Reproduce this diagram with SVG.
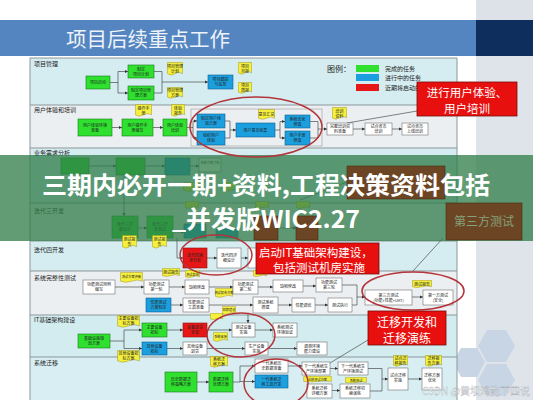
<svg xmlns="http://www.w3.org/2000/svg" xmlns:xlink="http://www.w3.org/1999/xlink" width="533" height="400" viewBox="0 0 533 400">
<style>
.t{font-family:"Noto Sans CJK SC","Liberation Sans",sans-serif;}
.bx{font-family:"Noto Sans CJK SC",sans-serif;font-size:4px;fill:#222;text-anchor:middle;}
.sm{font-size:3.2px;}
.lane{font-family:"Noto Sans CJK SC",sans-serif;font-size:6px;fill:#222;}
.g{fill:#2fe02f;stroke:#1b7a1b;stroke-width:0.6;}
.b{fill:#1c9fde;stroke:#10608f;stroke-width:0.6;}
.r{fill:#e81717;stroke:#8f1010;stroke-width:0.6;}
.w{fill:#ffffff;stroke:#6f6f6f;stroke-width:0.6;}
.br{fill:#6c4524;stroke:#4a2c14;stroke-width:0.6;}
.cn path,.cn line{fill:none;stroke:#333;stroke-width:0.6;}
.ar{marker-end:url(#arr);}
.ell{fill:none;stroke:#b3343a;stroke-width:1.5;}
.co{fill:#e80f0f;stroke:#7a0a0a;stroke-width:0.8;}
.cot{font-family:"Noto Sans CJK SC",sans-serif;fill:#fff;text-anchor:middle;}
</style>
<defs>
<marker id="arr" viewBox="0 0 6 6" refX="6" refY="3" markerWidth="3.5" markerHeight="3.5" orient="auto" markerUnits="userSpaceOnUse"><path d="M0,0 L6,3 L0,6 Z" fill="#333"/></marker>
<symbol id="doc" viewBox="0 0 20 12" preserveAspectRatio="none"><path d="M0.5,0.5 H19.5 V10 Q15,7.5 10,10 T0.5,10 Z" fill="#f5f03c" stroke="#9c9020" stroke-width="0.5" vector-effect="non-scaling-stroke"/></symbol>
</defs>
<rect width="533" height="400" fill="#ffffff"/>
<!-- header -->
<rect x="476" y="0" width="57" height="20" fill="#dde2e8"/>
<rect x="0" y="20" width="476" height="36" fill="#5485c0"/>
<rect x="476" y="20" width="57" height="36" fill="#0e2f5e"/>
<rect x="476" y="56" width="57" height="344" fill="#dfe4ea"/>
<text class="t" x="66" y="47" font-size="20.5" fill="#eef3fa">项目后续重点工作</text>
<g id="hexes" fill="#c8d5e4">
<polygon points="487,330 506,330 515,346 506,362 487,362 478,346"/>
<polygon points="461,348 477,348 485,362 477,377 461,377 453,362"/>
<polygon points="487,364 506,364 515,380 506,396 487,396 478,380"/>
</g>
<!-- lanes -->
<g id="lanes">
<rect x="30" y="58" width="427" height="47" fill="#d5edf1"/>
<rect x="30" y="105" width="427" height="43" fill="#eceff1"/>
<rect x="30" y="148" width="427" height="55" fill="#d5edf1"/>
<rect x="30" y="203" width="427" height="38" fill="#eceff1"/>
<rect x="30" y="241" width="427" height="30" fill="#d5edf1"/>
<rect x="30" y="271" width="427" height="44" fill="#eceff1"/>
<rect x="30" y="315" width="427" height="42" fill="#d3ecf0"/>
<rect x="30" y="357" width="427" height="43" fill="#d8eef2"/>
<g stroke="#8c979c" stroke-width="1">
<line x1="30" y1="58" x2="457" y2="58"/>
<line x1="30" y1="105" x2="457" y2="105"/>
<line x1="30" y1="148" x2="457" y2="148"/>
<line x1="30" y1="203" x2="457" y2="203"/>
<line x1="30" y1="241" x2="457" y2="241"/>
<line x1="30" y1="271" x2="457" y2="271"/>
<line x1="30" y1="315" x2="457" y2="315"/>
<line x1="30" y1="357" x2="457" y2="357"/>
<line x1="30" y1="58" x2="30" y2="400"/>
<line x1="457" y1="58" x2="457" y2="400"/>
</g>
<text class="lane" x="34" y="66">项目管理</text>
<text class="lane" x="34" y="112">用户体验和培训</text>
<text class="lane" x="34" y="155">业务需求分析</text>
<text class="lane" x="34" y="213">迭代三开发</text>
<text class="lane" x="34" y="252">迭代四开发</text>
<text class="lane" x="34" y="280">系统完整性测试</text>
<text class="lane" x="34" y="322">IT基础架构建设</text>
<text class="lane" x="34" y="365">系统迁移</text>
</g>
<!-- legend -->
<g id="legend">
<text class="t" x="327" y="72" font-size="8" fill="#222">图例：</text>
<rect x="356" y="65" width="23" height="7" fill="#2fe02f"/>
<rect x="356" y="74" width="23" height="7" fill="#1c9fde"/>
<rect x="356" y="84" width="23" height="7" fill="#e81717"/>
<text class="t" x="385" y="71" font-size="6" fill="#222">完成的任务</text>
<text class="t" x="385" y="80" font-size="6" fill="#222">进行中的任务</text>
<text class="t" x="385" y="89.5" font-size="6" fill="#222">近期将启动的任务</text>
</g>
<!-- connectors -->
<g id="connectors" class="cn">
<path d="M110,82.5 H118 M118,71.5 V93 M154,71.5 H162 V93 M154,93 H162"/>
<path class="ar" d="M118,71.5 H128"/><path class="ar" d="M118,93 H128"/><path class="ar" d="M162,82 H208"/>
<path class="ar" d="M112,127.5 H122"/><path class="ar" d="M153,127.5 H163"/>
<path d="M187,127.5 H193 M193,121 V138 M225,121 H230 V138 M225,138 H230 M275,130 H280 M280,121.5 V138 M310,121.5 H318 V138 M310,138 H318"/>
<path class="ar" d="M193,121 H197"/><path class="ar" d="M193,138 H197"/><path class="ar" d="M230,130 H236"/>
<path class="ar" d="M280,121.5 H285"/><path class="ar" d="M280,138 H285"/><path class="ar" d="M318,129 H327"/>
<path class="ar" d="M353,129 H365"/><path class="ar" d="M392,129 H402"/>
<rect x="191" y="109" width="131" height="37" fill="none" stroke="#9a9a9a" stroke-width="0.6"/>
<path class="ar" d="M89,166 H116"/><path class="ar" d="M145,166 H165"/><path class="ar" d="M190,166 H199"/>
<path class="ar" d="M124,175 V216"/>
<path class="ar" d="M138,228 H147"/><path class="ar" d="M173,232 H184"/><path class="ar" d="M278,228 H296"/>
<path class="ar" d="M177,238 V258 H183"/><path class="ar" d="M207,258 H217"/><path class="ar" d="M241,258 H248"/>
<path class="ar" d="M115,287 H144"/><path class="ar" d="M169,287 H185"/><path class="ar" d="M209,287 H233"/>
<path class="ar" d="M258,287 H273"/><path class="ar" d="M303,286 H316"/>
<path class="ar" d="M171,305 H183"/><path class="ar" d="M209,305 H253"/><path class="ar" d="M278,305 H292"/><path class="ar" d="M315,305 H328"/>
<path d="M342,285 H357 V305 H352"/>
<path class="ar" d="M357,297 H365"/><path class="ar" d="M412,297 H423"/>
<path class="ar" d="M248,313 V323"/>
<path d="M110,341 H124 M124,330 V348.5"/>
<path class="ar" d="M124,330 H142"/><path class="ar" d="M124,348.5 H142"/>
<path class="ar" d="M167,330 H183"/><path class="ar" d="M207,330 H232"/>
<path class="ar" d="M167,348.5 H183"/><path class="ar" d="M207,348.5 H245"/>
<path class="ar" d="M255,330 H273"/><path class="ar" d="M268,348.5 H297"/>
<path class="ar" d="M197,382 H209"/>
<path d="M233,382 H240 M240,366 V382"/>
<path class="ar" d="M240,366 H255"/><path class="ar" d="M240,381.5 H255"/>
<path class="ar" d="M288,366 H302"/><path class="ar" d="M330,368.5 H338"/>
<path d="M368,368.5 H382 V391 H370"/>
<path class="ar" d="M382,379 H388"/><path class="ar" d="M332,390.5 H340"/><path class="ar" d="M408,379 H422"/>
<line x1="417" y1="111" x2="347" y2="123"/>
<line x1="443" y1="238" x2="413" y2="271"/>
<line x1="368" y1="340" x2="330" y2="363"/>
<line x1="347" y1="182" x2="300" y2="200"/>
</g>
<!-- nodes: 项目管理 -->
<g id="n_pm1"><rect class="g" x="86" y="76" width="24" height="13"/><text class="bx" x="98" y="84">项目启动</text></g>
<g id="n_pm2"><rect class="g" x="128" y="65" width="26" height="13"/><text class="bx" x="141" y="70.5">制定</text><text class="bx" x="141" y="75.5">项目计划</text></g>
<g id="n_pm3"><rect class="g" x="128" y="86" width="26" height="14"/><text class="bx" x="141" y="92">制定项目管</text><text class="bx" x="141" y="97">理方案</text></g>
<g id="n_pm4"><use href="#doc" x="167" y="62" width="16" height="14"/><text class="bx" x="175" y="68">项目管理</text><text class="bx" x="175" y="73">计划</text></g>
<g id="n_pm5"><use href="#doc" x="167" y="87" width="16" height="12"/><text class="bx" x="175" y="92">项目管理</text><text class="bx" x="175" y="97">方案</text></g>
<g id="n_pm6"><rect class="b" x="208" y="75" width="25" height="14"/><text class="bx" x="220.5" y="81">项目跟踪</text><text class="bx" x="220.5" y="86">与监控</text></g>
<g id="n_pm7"><use href="#doc" x="238" y="62" width="14" height="13"/><text class="bx" x="245" y="67.5">项目</text><text class="bx" x="245" y="72.5">月报</text></g>
<g id="n_pm8"><use href="#doc" x="238" y="82" width="14" height="12"/><text class="bx" x="245" y="87">项目</text><text class="bx" x="245" y="92">周报</text></g>
<!-- 用户体验和培训 -->
<g id="n_ux1"><use href="#doc" x="135" y="104" width="17" height="13"/><text class="bx" x="143.5" y="109.5">操作手</text><text class="bx" x="143.5" y="114.5">册</text></g>
<g id="n_ux2"><use href="#doc" x="171" y="104" width="14" height="13"/><text class="bx" x="178" y="109.5">体验</text><text class="bx" x="178" y="114.5">报告</text></g>
<g id="n_ux3"><rect class="g" x="78" y="119" width="34" height="17"/><text class="bx" x="95" y="126.5">用户体验环境</text><text class="bx" x="95" y="131.5">准备</text></g>
<g id="n_ux4"><rect class="g" x="122" y="119" width="31" height="17"/><text class="bx" x="137.5" y="126.5">用户操作手</text><text class="bx" x="137.5" y="131.5">册编写</text></g>
<g id="n_ux5"><rect class="g" x="163" y="119" width="24" height="17"/><text class="bx" x="175" y="126.5">用户体验</text><text class="bx" x="175" y="131.5">培训</text></g>
<g id="n_ux6"><rect class="b" x="197" y="114" width="28" height="14"/><text class="bx" x="211" y="120">制定用户体</text><text class="bx" x="211" y="125">验方案</text></g>
<g id="n_ux7"><rect class="b" x="197" y="131" width="28" height="14"/><text class="bx" x="211" y="137">组织用户</text><text class="bx" x="211" y="142">体验</text></g>
<g id="n_ux8"><rect class="b" x="236" y="123" width="39" height="14"/><text class="bx" x="255.5" y="131.5">用户意见收集</text></g>
<g id="n_ux9"><use href="#doc" x="258" y="109" width="17" height="11"/><text class="bx" x="266.5" y="115.5">意见汇总</text></g>
<g id="n_ux10"><rect class="b" x="285" y="115" width="25" height="13"/><text class="bx" x="297.5" y="120.5">系统优化</text><text class="bx" x="297.5" y="125.5">修改</text></g>
<g id="n_ux11"><rect class="b" x="285" y="131" width="25" height="14"/><text class="bx" x="297.5" y="137">用户手册</text><text class="bx" x="297.5" y="142">修改</text></g>
<g id="n_ux12"><use href="#doc" x="332" y="107" width="15" height="13"/><text class="bx" x="339.5" y="112.5">培训</text><text class="bx" x="339.5" y="117.5">资料</text></g>
<g id="n_ux13"><rect class="w" x="327" y="123" width="26" height="12"/><text class="bx" x="340" y="128">完整培训资</text><text class="bx" x="340" y="133">料准备</text></g>
<g id="n_ux14"><rect class="w" x="365" y="123" width="27" height="12"/><text class="bx" x="378.5" y="128">试点省市</text><text class="bx" x="378.5" y="133">培训</text></g>
<g id="n_ux15"><rect class="w" x="402" y="123" width="26" height="12"/><text class="bx" x="415" y="128">试点省市</text><text class="bx" x="415" y="133">上线培训</text></g>
<!-- 业务需求分析 -->
<g id="n_ba1"><rect class="g" x="61" y="158" width="28" height="16"/></g>
<g id="n_ba2"><rect class="g" x="116" y="158" width="29" height="17"/></g>
<g id="n_ba3"><rect class="b" x="165" y="158" width="25" height="17"/></g>
<g id="n_ba4"><rect class="w" x="199" y="158" width="22" height="14"/><text class="bx sm" x="210" y="164">系统方案文档</text></g>
<g id="n_ba5"><use href="#doc" x="183" y="182" width="20" height="10"/></g>
<g id="n_ba6"><use href="#doc" x="221" y="182" width="16" height="10"/></g>
<!-- 迭代三开发 -->
<g id="n_i3d1"><use href="#doc" x="185" y="201" width="14" height="8"/></g>
<g id="n_i3d2"><use href="#doc" x="255" y="201" width="14" height="8"/></g>
<g id="n_i3d3"><use href="#doc" x="296" y="201" width="14" height="8"/></g>
<g id="n_i3a"><rect class="g" x="112" y="216" width="26" height="22"/><text class="bx" x="125" y="226">迭代三详</text><text class="bx" x="125" y="231">细设计</text></g>
<g id="n_i3b"><rect class="g" x="147" y="216" width="26" height="22"/><text class="bx" x="160" y="226">迭代三开</text><text class="bx" x="160" y="231">发测试</text></g>
<g id="n_i3c"><rect class="b" x="184" y="224" width="22" height="14"/></g>
<g id="n_i3e"><rect class="b" x="216" y="229" width="22" height="9"/></g>
<!-- banner overlay -->
<rect id="banner" x="0" y="155" width="533" height="86" fill="#2f7d4a" opacity="0.76"/>
<g id="n_i3f"><rect class="br" x="254" y="216" width="24" height="24"/></g>
<g id="n_i3g"><rect class="br" x="296" y="216" width="22" height="24"/></g>
<g id="callout_big"><rect class="br" x="347" y="166" width="98" height="33"/></g>
<g id="callout_3rd"><rect class="br" x="446" y="203" width="76" height="37"/><text class="t" x="484" y="226" font-size="12" fill="#86a27a" text-anchor="middle">第三方测试</text></g>
<g id="banner_text">
<text class="t" x="42" y="194" font-size="24" font-weight="700" fill="#ffffff" textLength="448" lengthAdjust="spacingAndGlyphs">三期内必开一期+资料,工程决策资料包括</text>
<text class="t" x="172" y="228" font-size="24" font-weight="700" fill="#ffffff" textLength="188" lengthAdjust="spacingAndGlyphs">_并发版WIC2.27</text>
</g>
<!-- 迭代四开发 -->
<g id="n_i4d1"><use href="#doc" x="122" y="235" width="15" height="14"/><text class="bx" x="129.5" y="241">测试报</text><text class="bx" x="129.5" y="246">告</text></g>
<g id="n_i4d2"><use href="#doc" x="152" y="235" width="15" height="14"/><text class="bx" x="159.5" y="241">测试报</text><text class="bx" x="159.5" y="246">告</text></g>
<g id="n_i4a"><rect class="r" x="183" y="248" width="24" height="20"/><text class="bx" x="195" y="256.5">迭代四需</text><text class="bx" x="195" y="261.5">求分析</text></g>
<g id="n_i4b"><rect class="w" x="217" y="248" width="24" height="20"/><text class="bx" x="229" y="256.5">迭代四详</text><text class="bx" x="229" y="261.5">细设计</text></g>
<g id="n_i4c"><rect class="w" x="248" y="248" width="20" height="20"/></g>
<!-- 系统完整性测试 -->
<g id="n_st1"><use href="#doc" x="120" y="272" width="23" height="11"/><text class="bx sm" x="131.5" y="277.5">测试方案评审</text></g>
<g id="n_st2"><use href="#doc" x="162" y="268" width="18" height="9"/><text class="bx" x="171" y="274">测试报告</text></g>
<g id="n_st3"><use href="#doc" x="185" y="270" width="15" height="8"/><text class="bx sm" x="192.5" y="275.5">测试报告</text></g>
<g id="n_st4"><rect class="w" x="83" y="280" width="32" height="14"/><text class="bx" x="99" y="286">功能测试用例</text><text class="bx" x="99" y="291">编写</text></g>
<g id="n_st5"><rect class="w" x="144" y="280" width="25" height="14"/><text class="bx" x="156.5" y="286">功能测试</text><text class="bx" x="156.5" y="291">第一轮</text></g>
<g id="n_st6"><rect class="w" x="185" y="280" width="24" height="14"/><text class="bx" x="197" y="288.5">缺陷修改</text></g>
<g id="n_st7"><use href="#doc" x="215" y="288" width="18" height="10"/><text class="bx sm" x="224" y="293.5">测试报告方案</text></g>
<g id="n_st8"><rect class="w" x="233" y="280" width="25" height="14"/><text class="bx" x="245.5" y="286">功能测试</text><text class="bx" x="245.5" y="291">第二轮</text></g>
<g id="n_st9"><use href="#doc" x="253" y="270" width="14" height="7"/></g>
<g id="n_st10"><rect class="w" x="273" y="280" width="30" height="12"/><text class="bx" x="288" y="287.5">缺陷修改</text></g>
<g id="n_st11"><rect class="w" x="316" y="278" width="26" height="14"/><text class="bx" x="329" y="284">功能测试</text><text class="bx" x="329" y="289">第三轮</text></g>
<g id="n_st12"><rect class="b" x="146" y="298" width="25" height="14"/><text class="bx" x="158.5" y="304">性能测试</text><text class="bx" x="158.5" y="309">方案制定</text></g>
<g id="n_st13"><rect class="w" x="183" y="298" width="26" height="14"/><text class="bx" x="196" y="304">性能测试</text><text class="bx" x="196" y="309">工具准备</text></g>
<g id="n_st14"><use href="#doc" x="210" y="313" width="13" height="7"/></g>
<g id="n_st15"><rect class="w" x="253" y="297" width="25" height="16"/><text class="bx" x="265.5" y="304">测试系统</text><text class="bx" x="265.5" y="309">搭建</text></g>
<g id="n_st16"><rect class="w" x="292" y="298" width="23" height="14"/><text class="bx" x="303.5" y="306.5">性能调优</text></g>
<g id="n_st17"><rect class="w" x="328" y="298" width="24" height="14"/><text class="bx" x="340" y="306.5">测试执行</text></g>
<g id="n_st18"><use href="#doc" x="412" y="280" width="20" height="8"/><text class="bx" x="422" y="285.5">测试报告</text></g>
<g id="n_st19"><rect class="w" x="365" y="290" width="47" height="15"/><text class="bx" x="388.5" y="296.5">第三方测试</text><text class="bx" x="388.5" y="301.5">(功能+性能+UAT)</text></g>
<g id="n_st20"><rect class="w" x="423" y="290" width="30" height="15"/><text class="bx" x="438" y="296.5">第一方测试</text><text class="bx" x="438" y="301.5">(安全)</text></g>
<!-- IT基础架构建设 -->
<g id="n_it1"><use href="#doc" x="117" y="315" width="23" height="13"/><text class="bx" x="128.5" y="320.3">主要设备招</text><text class="bx" x="128.5" y="325.3">标方案</text></g>
<g id="n_it2"><use href="#doc" x="117" y="350" width="23" height="13"/><text class="bx" x="128.5" y="355.3">其他设备招</text><text class="bx" x="128.5" y="360.3">标方案</text></g>
<g id="n_it3"><rect class="g" x="78" y="334" width="32" height="14"/><text class="bx" x="94" y="340">基础设施规</text><text class="bx" x="94" y="345">划方案</text></g>
<g id="n_it4"><rect class="g" x="142" y="323" width="25" height="14"/><text class="bx" x="154.5" y="329">主要设备</text><text class="bx" x="154.5" y="334">招标</text></g>
<g id="n_it5"><rect class="b" x="142" y="342" width="25" height="13"/><text class="bx" x="154.5" y="347.5">其他设备</text><text class="bx" x="154.5" y="352.5">招标</text></g>
<g id="n_it6"><rect class="r" x="183" y="323" width="24" height="14"/><text class="bx" x="195" y="329">设备到货</text><text class="bx" x="195" y="334">安装</text></g>
<g id="n_it7"><rect class="w" x="183" y="342" width="24" height="13"/><text class="bx" x="195" y="347.5">其他设备</text><text class="bx" x="195" y="352.5">到货</text></g>
<g id="n_it8"><use href="#doc" x="222" y="306" width="14" height="9"/><text class="bx sm" x="229" y="311.3">机房建设</text></g>
<g id="n_it9"><use href="#doc" x="213" y="332" width="15" height="10"/><text class="bx sm" x="220.5" y="337.8">系统安装</text></g>
<g id="n_it10"><rect class="w" x="232" y="323" width="23" height="14"/><text class="bx" x="243.5" y="329">测试设备</text><text class="bx" x="243.5" y="334">实施</text></g>
<g id="n_it11"><rect class="w" x="245" y="342" width="23" height="13"/><text class="bx" x="256.5" y="347.5">生产设备</text><text class="bx" x="256.5" y="352.5">实施</text></g>
<g id="n_it12"><rect class="w" x="273" y="323" width="24" height="14"/><text class="bx" x="285" y="329">系统测试</text><text class="bx" x="285" y="334">环境验证</text></g>
<g id="n_it13"><rect class="w" x="297" y="342" width="30" height="13"/><text class="bx" x="312" y="347.5">调测环境</text><text class="bx" x="312" y="352.5">能力建设</text></g>
<!-- 系统迁移 -->
<g id="n_mg1"><use href="#doc" x="210" y="356" width="18" height="12"/><text class="bx" x="219" y="360.8">系统迁</text><text class="bx" x="219" y="365.8">移方案</text></g>
<g id="n_mg2"><rect class="g" x="165" y="372" width="32" height="20"/><text class="bx" x="181" y="380.5">历史数据迁</text><text class="bx" x="181" y="385.5">移策略方案</text></g>
<g id="n_mg3"><rect class="g" x="209" y="372" width="24" height="20"/><text class="bx" x="221" y="380.5">数据迁移</text><text class="bx" x="221" y="385.5">处理方案</text></g>
<g id="n_mg4"><rect class="w" x="255" y="359" width="33" height="14"/><text class="bx" x="271.5" y="365">一代系统历</text><text class="bx" x="271.5" y="370">史数据准备</text></g>
<g id="n_mg5"><rect class="b" x="255" y="375" width="33" height="13"/><text class="bx" x="271.5" y="380.5">一代系统迁</text><text class="bx" x="271.5" y="385.5">移工具开发</text></g>
<g id="n_mg6"><rect class="w" x="302" y="362" width="28" height="13"/><text class="bx" x="316" y="367.5">下一代系统生</text><text class="bx" x="316" y="372.5">产环境部署</text></g>
<g id="n_mg7"><rect class="w" x="338" y="362" width="30" height="13"/><text class="bx" x="353" y="367.5">下一代系统生</text><text class="bx" x="353" y="372.5">产环境测试</text></g>
<g id="n_mg8"><use href="#doc" x="303" y="376" width="29" height="6.5"/><text class="bx sm" x="317.5" y="380.5">迁移测试方案</text></g>
<g id="n_mg9"><use href="#doc" x="345" y="377" width="22" height="6.5"/><text class="bx sm" x="356" y="381.5">系统测试</text></g>
<g id="n_mg10"><rect class="w" x="307" y="384" width="25" height="14"/><text class="bx" x="319.5" y="390">系统迁移</text><text class="bx" x="319.5" y="395">详细方案</text></g>
<g id="n_mg11"><rect class="w" x="340" y="384" width="30" height="14"/><text class="bx" x="355" y="390">系统迁移切</text><text class="bx" x="355" y="395">换演练</text></g>
<g id="n_mg12"><use href="#doc" x="393" y="355" width="15" height="12"/><text class="bx" x="400.5" y="359.8">试点迁</text><text class="bx" x="400.5" y="364.8">移报告</text></g>
<g id="n_mg13"><rect class="w" x="388" y="368" width="20" height="22"/><text class="bx" x="398" y="377">试点迁移</text><text class="bx" x="398" y="382">实施</text></g>
<g id="n_mg14"><use href="#doc" x="425" y="355" width="17" height="12"/><text class="bx" x="433.5" y="359.8">迁移报</text><text class="bx" x="433.5" y="364.8">告方案</text></g>
<g id="n_mg15"><rect class="w" x="422" y="368" width="20" height="22"/><text class="bx" x="432" y="377">迁移方案</text><text class="bx" x="432" y="382">优化</text></g>
<!-- ellipses -->
<g id="highlights">
<ellipse class="ell" cx="256" cy="127" rx="66" ry="30"/>
<ellipse class="ell" cx="216" cy="255" rx="36" ry="20"/>
<ellipse class="ell" cx="413" cy="291" rx="51" ry="19"/>
<ellipse class="ell" cx="241" cy="335" rx="34" ry="22"/>
<ellipse class="ell" cx="276" cy="383" rx="32" ry="24"/>
</g>
<!-- callouts -->
<g id="callout_ux"><rect class="co" x="417" y="82" width="100" height="34"/><text class="cot" x="467" y="97" font-size="11.5">进行用户体验、</text><text class="cot" x="467" y="112.8" font-size="11.5">用户培训</text></g>
<g id="callout_it"><rect class="co" x="256" y="243" width="123" height="31"/><text class="cot" x="316" y="257" font-size="11.5">启动IT基础架构建设，</text><text class="cot" x="319" y="271.5" font-size="11.5">包括测试机房实施</text></g>
<g id="callout_mg"><rect class="co" x="368" y="311" width="78" height="34"/><text class="cot" x="407" y="326.5" font-size="12">迁移开发和</text><text class="cot" x="407" y="342.5" font-size="12">迁移演练</text></g>
<text id="watermark" class="t" x="422" y="395" font-size="10" fill="#ffffff" opacity="0.85" stroke="#9aa0a8" stroke-width="0.3">CSDN @黄坝鸿能下四说</text>
</svg>
